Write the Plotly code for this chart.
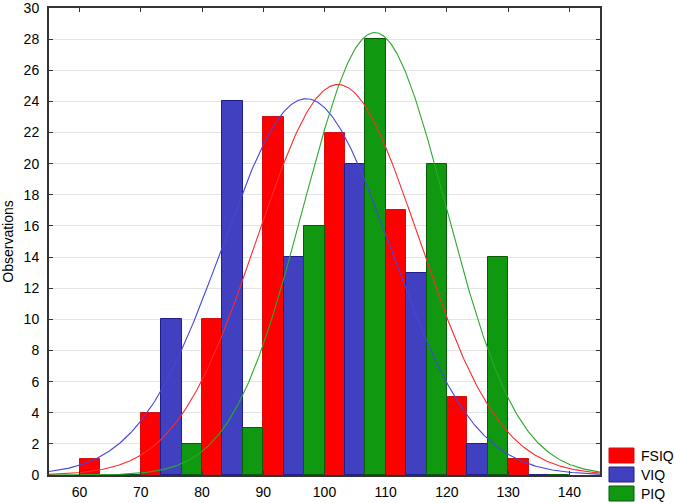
import numpy as np
import plotly.graph_objects as go

# ---- data ----
bin_starts = [60, 70, 80, 90, 100, 110, 120, 130]
bin_width = 10
fsiq_counts = [1, 4, 10, 23, 22, 17, 5, 1]
viq_counts = [0, 10, 24, 14, 20, 13, 2, 0]
piq_counts = [0, 2, 3, 16, 28, 20, 14, 0]
series_names = ["FSIQ", "VIQ", "PIQ"]

# fitted normal curves (mean, sd)
fit_params = {"FSIQ": (102.2, 13.2), "VIQ": (97.0, 13.7), "PIQ": (108.2, 11.65)}

x_ticks = [60, 70, 80, 90, 100, 110, 120, 130, 140]
y_ticks = list(range(0, 31, 2))

# ---- styling ----
W, H = 675, 503
ML, MR, MT, MB = 49, 75, 8, 28
fills = {"FSIQ": "#ff0000", "VIQ": "#4040c0", "PIQ": "#109810"}
edges = {"FSIQ": "#d01010", "VIQ": "#1e1e8c", "PIQ": "#0a5a0a"}
curve_cols = {"FSIQ": "#ff2a2a", "VIQ": "#4646dc", "PIQ": "#2aaa2a"}
FONT = "Liberation Sans, Arial, sans-serif"

counts = {"FSIQ": fsiq_counts, "VIQ": viq_counts, "PIQ": piq_counts}
n_total = sum(fsiq_counts)

fig = go.Figure()
sub_w = bin_width / 3
for i, name in enumerate(series_names):
    fig.add_trace(go.Bar(
        x=bin_starts, y=counts[name], width=sub_w, offset=i * sub_w,
        marker=dict(color=fills[name], line=dict(color=edges[name], width=1)),
        name=name, showlegend=False,
    ))

xs = np.linspace(55, 145, 500)
for name in series_names:
    mu, sd = fit_params[name]
    ys = n_total * bin_width * np.exp(-0.5 * ((xs - mu) / sd) ** 2) / (sd * np.sqrt(2 * np.pi))
    fig.add_trace(go.Scatter(x=xs, y=ys, mode="lines",
                             line=dict(color=curve_cols[name], width=1.1),
                             showlegend=False, hoverinfo="skip"))

# custom legend (pixel -> paper)
pw, ph = W - ML - MR, H - MT - MB
def px_x(p):
    return (p - ML) / pw
def px_y(p):
    return (H - MB - p) / ph

shapes = []
annotations = []
for i, name in enumerate(series_names):
    top = 448 + i * 19
    shapes.append(dict(type="rect", xref="paper", yref="paper",
                       x0=px_x(609), x1=px_x(634), y0=px_y(top + 15), y1=px_y(top),
                       fillcolor=fills[name], line=dict(color=edges[name], width=1)))
    annotations.append(dict(text=name, xref="paper", yref="paper", x=px_x(639),
                            y=px_y(top + 7.5), xanchor="left", yanchor="middle",
                            showarrow=False, font=dict(family=FONT, size=14, color="#000")))

axis_common = dict(showline=True, linecolor="#333333", linewidth=2, mirror="ticks",
                   ticks="inside", ticklen=4, tickcolor="#333333", zeroline=False,
                   automargin=False, ticklabeloverflow="allow",
                   tickfont=dict(family=FONT, size=14, color="#000"))

fig.update_layout(
    width=W, height=H,
    margin=dict(l=ML, r=MR, t=MT, b=MB, pad=0, autoexpand=False),
    plot_bgcolor="white", paper_bgcolor="white",
    barmode="overlay", bargap=0,
    shapes=shapes, annotations=annotations,
    xaxis=dict(range=[55, 145], tickvals=x_ticks, showgrid=False,
               ticklabelstandoff=3, **axis_common),
    yaxis=dict(range=[0, 30.0001], tickvals=y_ticks, showgrid=True, gridcolor="#e4e4e4",
               gridwidth=1, ticklabelstandoff=5,
               title=dict(text="Observations", font=dict(family=FONT, size=14, color="#000"),
                          standoff=8),
               **axis_common),
)

fig.write_html("out.html", config={"displayModeBar": False},
               post_script="document.body.style.margin='0';document.body.style.padding='0';"
                           "document.body.style.overflow='hidden';")
